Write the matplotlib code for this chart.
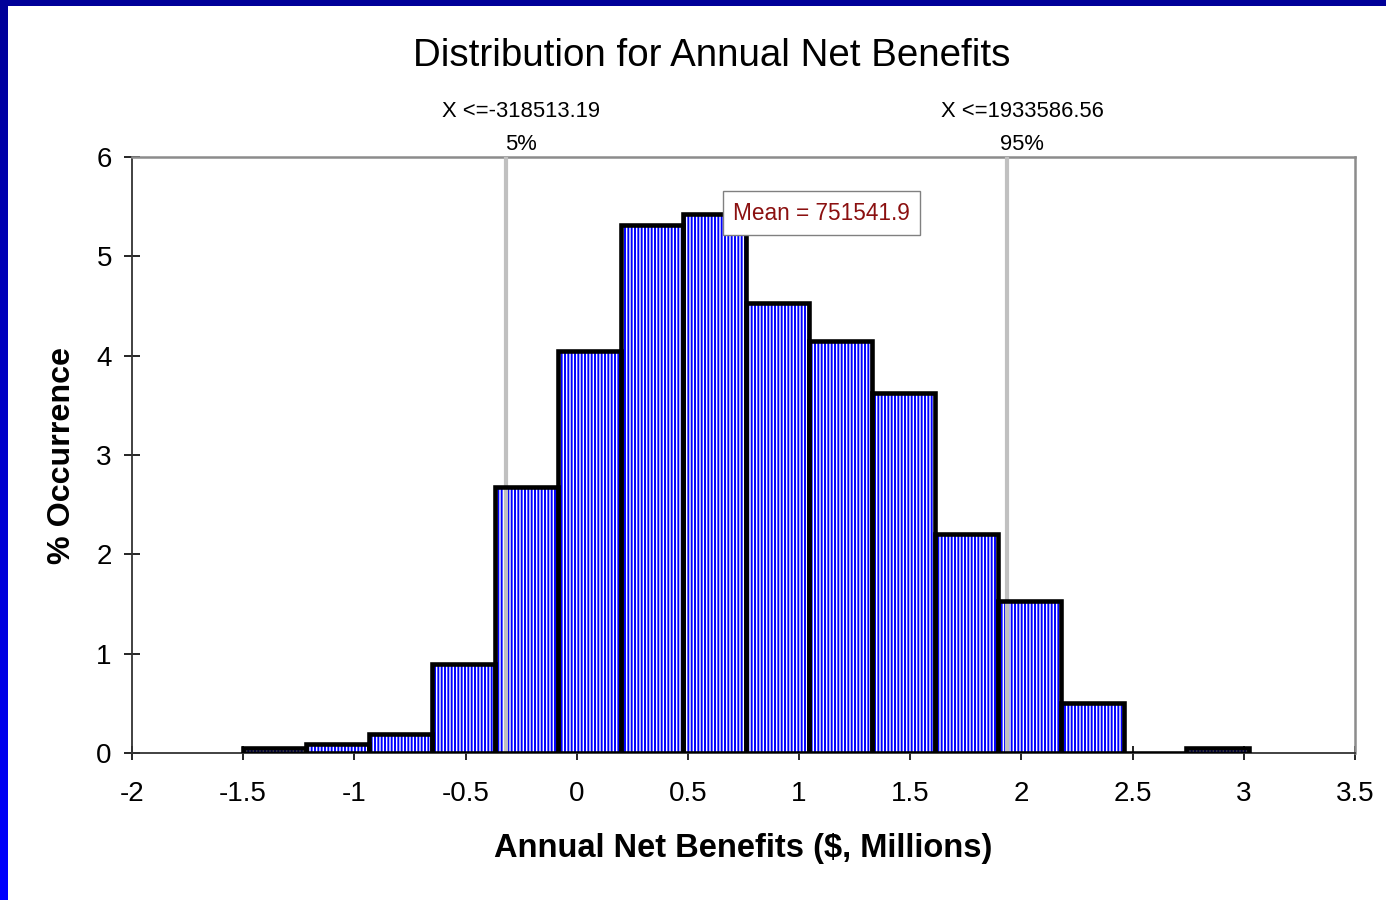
import numpy as np
import matplotlib.pyplot as plt
from matplotlib.patches import Rectangle

plt.rcParams['font.family'] = ['Liberation Sans', 'DejaVu Sans']
plt.rcParams['hatch.linewidth'] = 1.4

# histogram of simulated annual net benefits ($ millions)
bin_lo, bin_hi = -1.50, 3.025
pct = [0.05, 0.09, 0.19, 0.90, 2.68, 4.05, 5.32, 5.43,
       4.53, 4.15, 3.62, 2.20, 1.53, 0.50, 0.0, 0.05]
p5, p95 = -0.31851319, 1.93358656
p5_label = 'X <=-318513.19'
p95_label = 'X <=1933586.56'
mean_label = 'Mean = 751541.9'
xticks = [-2, -1.5, -1, -0.5, 0, 0.5, 1, 1.5, 2, 2.5, 3, 3.5]
yticks = [0, 1, 2, 3, 4, 5, 6]

edges = np.linspace(bin_lo, bin_hi, len(pct) + 1)
width = edges[1] - edges[0]

fig = plt.figure(figsize=(13.86, 9), dpi=100)
fig.patch.set_facecolor('white')

# slide frame: blue band on top and a gradient band on the left
fig.patches.append(Rectangle((0, 1 - 6 / 900), 1, 6 / 900, transform=fig.transFigure,
                             facecolor='#000099', edgecolor='none', zorder=0))
band = fig.add_axes([0, 0, 8 / 1386, 1 - 6 / 900])
grad = np.linspace(0, 1, 256).reshape(-1, 1)
band.imshow(np.dstack([np.zeros_like(grad), np.zeros_like(grad), 0.6 + 0.4 * grad]),
            aspect='auto', extent=[0, 1, 0, 1])
band.axis('off')

ax = fig.add_axes([132 / 1386, 1 - 753 / 900, 1223 / 1386, 596 / 900])

# hatched fill, then black outlines on top
ax.bar(edges[:-1], pct, width=width, align='edge', facecolor='white',
       edgecolor='blue', hatch='|||||', linewidth=0, zorder=2)
ax.bar(edges[:-1], pct, width=width, align='edge', fill=False,
       edgecolor='black', linewidth=3.3, zorder=4)

# 5% / 95% percentile markers
for xv in (p5, p95):
    ax.axvline(xv, color='#c0c0c0', lw=3, zorder=3)
for xv, lab, pc in ((p5, p5_label, '5%'), (p95, p95_label, '95%')):
    ax.annotate(lab, xy=(xv, 1), xycoords=('data', 'axes fraction'),
                xytext=(11, 32.5), textcoords='offset points',
                ha='center', va='center', fontsize=15.8)
    ax.annotate(pc, xy=(xv, 1), xycoords=('data', 'axes fraction'),
                xytext=(11, 9), textcoords='offset points',
                ha='center', va='center', fontsize=15.8)

ax.text(0.564, 0.906, mean_label, transform=ax.transAxes, ha='center', va='center',
        fontsize=16.3, color='#8b1010', zorder=6,
        bbox=dict(boxstyle='square,pad=0.45', facecolor='white', edgecolor='#808080', lw=1))

ax.set_xlim(-2, 3.5)
ax.set_ylim(0, 6)
ax.set_xticks(xticks)
ax.set_xticklabels([f'{t:g}' for t in xticks])
ax.set_yticks(yticks)
ax.tick_params(axis='x', direction='inout', length=10, width=1.2, pad=15,
               labelsize=20, colors='black')
ax.tick_params(axis='y', direction='inout', length=11, width=1.2, pad=9,
               labelsize=20, colors='black')
for t, v in zip(ax.xaxis.get_major_ticks(), xticks):
    t.tick1line.set_color('#808080' if float(v).is_integer() else 'black')

for s in ('left', 'bottom'):
    ax.spines[s].set_color('#333333')
    ax.spines[s].set_linewidth(1.3)
for s in ('top', 'right'):
    ax.spines[s].set_color('#8c8c8c')
    ax.spines[s].set_linewidth(1.8)

ax.set_xlabel('Annual Net Benefits ($, Millions)', fontsize=23.5, fontweight='bold', labelpad=19)
ax.set_ylabel('% Occurrence', fontsize=23.2, fontweight='bold', labelpad=14)

fig.text(712 / 1386, 1 - 56 / 900, 'Distribution for Annual Net Benefits',
         ha='center', va='center', fontsize=27.7)

fig.savefig('out.png', dpi=100)
